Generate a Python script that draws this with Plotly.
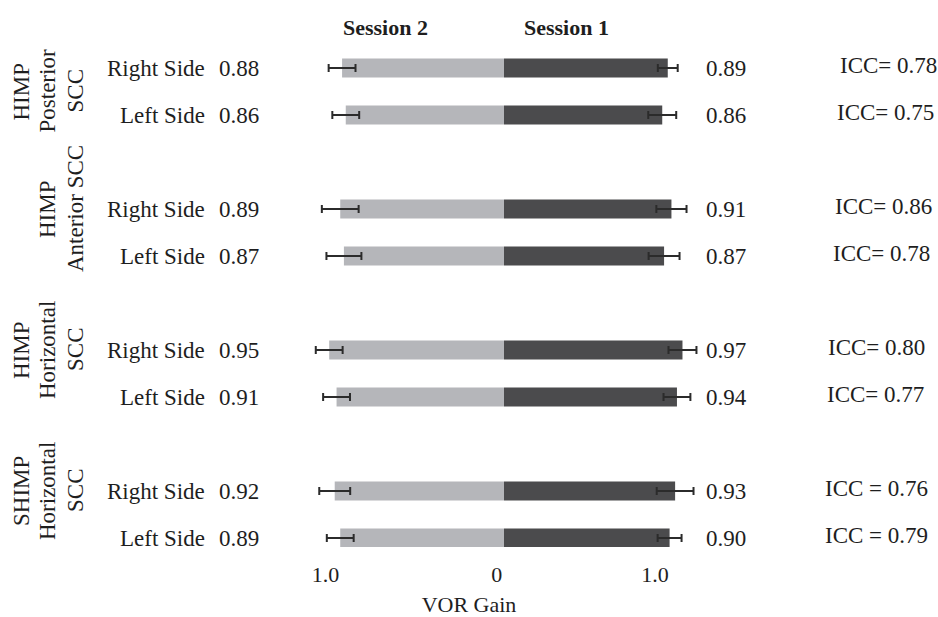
import plotly.graph_objects as go

# ---- data ----
rows = [0, 1, 3, 4, 6, 7, 9, 10]  # slot positions (gap between groups)
side_labels = ["Right Side", "Left Side"] * 4
session2 = [0.88, 0.86, 0.89, 0.87, 0.95, 0.91, 0.92, 0.89]
session1 = [0.89, 0.86, 0.91, 0.87, 0.97, 0.94, 0.93, 0.90]
session2_err = [0.073, 0.073, 0.10, 0.095, 0.073, 0.073, 0.084, 0.073]
session1_err = [0.054, 0.076, 0.082, 0.084, 0.076, 0.073, 0.10, 0.065]
icc_labels = ["ICC= 0.78", "ICC= 0.75", "ICC= 0.86", "ICC= 0.78",
              "ICC= 0.80", "ICC= 0.77", "ICC = 0.76", "ICC = 0.79"]
group_labels = [
    ["HIMP", "Posterior", "SCC"],
    ["HIMP", "Anterior SCC"],
    ["HIMP", "Horizontal", "SCC"],
    ["SHIMP", "Horizontal", "SCC"],
]
group_y = [0.5, 3, 6, 9]
tick_vals = [-0.97, -0.04, 0.82]
tick_text = ["1.0", "0", "1.0"]

# ---- layout / style (pixel positions of free text) ----
icc_x_px = [888, 886, 883, 881, 876, 875, 876, 876]

W, H = 938, 617
ML, MR, MT, MB = 100, 100, 40, 70
PX_PER_UNIT = 184.0
ZERO_PX = 504.0
x_min = -(ZERO_PX - ML) / PX_PER_UNIT
x_max = (W - MR - ZERO_PX) / PX_PER_UNIT
ROW0_PX, ROW_STEP = 68.0, 47.0
y_top = (MT - ROW0_PX) / ROW_STEP
y_bot = (H - MB - ROW0_PX) / ROW_STEP

FONT = "Liberation Serif, Times New Roman, serif"
LIGHT = "#b5b6ba"
DARK = "#4b4b4d"
ERR = "#2b2b2b"

fig = go.Figure()
fig.add_trace(go.Bar(
    y=rows, x=[-v for v in session2], orientation="h", width=0.4,
    marker=dict(color=LIGHT, line=dict(width=0)),
    error_x=dict(type="data", array=session2_err, color=ERR, thickness=2, width=4),
    name="Session 2", showlegend=False, hoverinfo="skip",
))
fig.add_trace(go.Bar(
    y=rows, x=session1, orientation="h", width=0.4,
    marker=dict(color=DARK, line=dict(width=0)),
    error_x=dict(type="data", array=session1_err, color=ERR, thickness=2, width=4),
    name="Session 1", showlegend=False, hoverinfo="skip",
))

def pxx(px):
    return (px - ML) / (W - ML - MR)

def pxy(px):
    return 1 - (px - MT) / (H - MT - MB)

ann = []
txt = dict(family=FONT, size=23, color="#1e1e1e")
for r, lab, v2, v1, icc, ix in zip(rows, side_labels, session2, session1, icc_labels, icc_x_px):
    ann.append(dict(x=pxx(207), y=r, xref="paper", yref="y", text=lab,
                    showarrow=False, xanchor="right", yanchor="middle", font=txt))
    ann.append(dict(x=pxx(239), y=r, xref="paper", yref="y", text=f"{v2:.2f}",
                    showarrow=False, xanchor="center", yanchor="middle", font=txt))
    ann.append(dict(x=pxx(726), y=r, xref="paper", yref="y", text=f"{v1:.2f}",
                    showarrow=False, xanchor="center", yanchor="middle", font=txt))
    ann.append(dict(x=pxx(ix), y=r - 0.06, xref="paper", yref="y", text=icc,
                    showarrow=False, xanchor="center", yanchor="middle", font=txt))

group_x_cols = {3: [21, 47, 75], 2: [47, 75]}
for lines, gy in zip(group_labels, group_y):
    xs = group_x_cols[len(lines)]
    for line, gx in zip(lines, xs):
        ann.append(dict(x=pxx(gx), y=gy, xref="paper", yref="y", text=line,
                        showarrow=False, textangle=-90, xanchor="center", yanchor="middle",
                        font=txt))

hdr = dict(family=FONT, size=22, color="#1e1e1e")
ann.append(dict(x=pxx(385), y=pxy(27), xref="paper", yref="paper",
                text="<b>Session 2</b>", showarrow=False, font=hdr, yanchor="middle"))
ann.append(dict(x=pxx(566), y=pxy(27), xref="paper", yref="paper",
                text="<b>Session 1</b>", showarrow=False, font=hdr, yanchor="middle"))

fig.update_layout(
    width=W, height=H,
    margin=dict(l=ML, r=MR, t=MT, b=MB, autoexpand=False),
    paper_bgcolor="white", plot_bgcolor="white",
    barmode="overlay",
    annotations=ann,
    xaxis=dict(range=[x_min, x_max], tickvals=tick_vals, ticktext=tick_text,
               showgrid=False, zeroline=False, showline=False, ticks="",
               automargin=False, ticklabelstandoff=12,
               tickfont=dict(family=FONT, size=22, color="#1e1e1e"),
               title=dict(text="VOR Gain", font=dict(family=FONT, size=22, color="#1e1e1e"),
                          standoff=14)),
    yaxis=dict(range=[y_bot, y_top], showgrid=False, zeroline=False, automargin=False,
               showline=False, showticklabels=False, ticks=""),
)

fig.write_html(
    "out.html",
    config={"displayModeBar": False},
    post_script="document.body.style.margin='0';document.body.style.overflow='hidden';",
)
